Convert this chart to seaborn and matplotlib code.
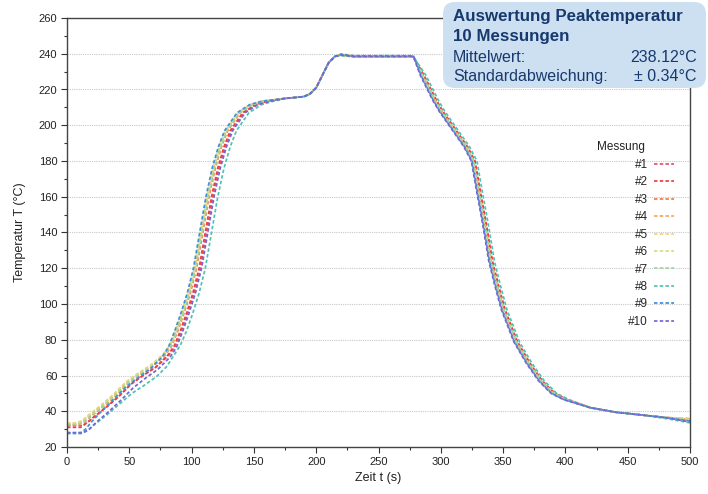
import matplotlib
matplotlib.use("Agg")
import matplotlib.pyplot as plt
import seaborn as sns
import pandas as pd
from matplotlib.patches import FancyBboxPatch
from matplotlib.lines import Line2D
from matplotlib.ticker import MultipleLocator

# ---------------- data ----------------
labels = ["#1", "#2", "#3", "#4", "#5", "#6", "#7", "#8", "#9", "#10"]
colors = ["#e8506e", "#f03c3c", "#f47a45", "#f8a650", "#f7d27a",
          "#d3dd86", "#9fd6a0", "#4fc2b2", "#3f8fe0", "#7664d4"]

t1 = [0, 12, 17, 22, 32, 42, 52, 62, 72, 82, 87, 92, 97, 102, 107, 112, 117, 122, 127, 132, 142, 152, 162,
      175, 190, 195, 200, 205, 210, 215, 220, 230, 250, 278,
      286, 291, 296, 301, 311, 321, 327, 331, 336, 341, 346, 351, 361, 371, 381, 391, 401,
      420, 440, 460, 480, 500]
T1 = [32, 32, 34, 37, 42.5, 48.5, 55.5, 60.5, 65, 71.5, 76.5, 85, 95, 106, 120, 140, 160, 176, 188, 197, 207, 211.5, 213.5,
      215, 216, 217.5, 221, 228, 235, 238.5, 239.6, 238.6, 238.6, 238.6,
      228, 221, 214, 208, 198, 188, 180, 164, 145, 124, 110, 97, 79, 67, 57, 50, 46.5,
      42, 39.5, 38, 36.5, 35.5]

t2 = [0, 11, 16, 21, 31, 41, 51, 61, 71, 81, 86, 91, 96, 101, 106, 111, 116, 121, 126, 131, 141, 151, 161,
      175, 190, 195, 200, 205, 210, 215, 220, 230, 250, 278,
      286.5, 291.5, 296.5, 301.5, 311.5, 321.5, 327.5, 331.5, 336.5, 341.5, 346.5, 351.5, 361.5, 371.5, 381.5, 391.5, 401.5,
      420, 440, 460, 480, 500]
T2 = [31, 31, 33.5, 36.5, 42, 48, 55, 60, 64.5, 71.5, 76.5, 85, 95, 106, 120, 140, 160, 176, 188, 197, 207, 211.5, 213.5,
      215, 216, 217.5, 221, 228, 235, 238.5, 239.3, 238.4, 238.4, 238.4,
      228, 221, 214, 208, 198, 188, 180, 164, 145, 124, 110, 97, 79, 67, 57, 50, 46.5,
      42, 39.5, 38, 36.5, 35]

t3 = [0, 9, 14, 19, 29, 39, 49, 59, 69, 79, 84, 89, 94, 99, 104, 109, 114, 119, 124, 129, 139, 149, 159,
      175, 190, 195, 200, 205, 210, 215, 220, 230, 250, 278,
      285, 290, 295, 300, 310, 320, 326, 330, 335, 340, 345, 350, 360, 370, 380, 390, 400,
      420, 440, 460, 480, 500]
T3 = [32.5, 32.5, 34, 37, 42.5, 48.5, 55.5, 60.5, 65, 71.5, 76.5, 85, 95, 106, 120, 140, 160, 176, 188, 197, 207, 211.5, 213.5,
      215, 216, 217.5, 221, 228, 235, 238.5, 239.5, 238.7, 238.7, 238.7,
      228, 221, 214, 208, 198, 188, 180, 164, 145, 124, 110, 97, 79, 67, 57, 50, 46.5,
      42, 39.5, 38, 36.5, 35.5]

t4 = [0, 8, 13, 18, 28, 38, 48, 58, 68, 78, 83, 88, 93, 98, 103, 108, 113, 118, 123, 128, 138, 148, 158,
      175, 190, 195, 200, 205, 210, 215, 220, 230, 250, 278,
      285.5, 290.5, 295.5, 300.5, 310.5, 320.5, 326.5, 330.5, 335.5, 340.5, 345.5, 350.5, 360.5, 370.5, 380.5, 390.5, 400.5,
      420, 440, 460, 480, 500]
T4 = [33, 33, 34.5, 37.5, 43, 49, 56, 61, 65.5, 71.5, 76.5, 85, 95, 106, 120, 140, 160, 176, 188, 197, 207, 211.5, 213.5,
      215, 216, 217.5, 221, 228, 235, 238.5, 239.2, 238.3, 238.3, 238.3,
      228, 221, 214, 208, 198, 188, 180, 164, 145, 124, 110, 97, 79, 67, 57, 50, 46.5,
      42, 39.5, 38, 36.5, 36]

t5 = [0, 7.5, 12.5, 17.5, 27.5, 37.5, 47.5, 57.5, 67.5, 77.5, 82.5, 87.5, 92.5, 97.5, 102.5, 107.5, 112.5, 117.5, 122.5, 127.5, 137.5, 147.5, 157.5,
      175, 190, 195, 200, 205, 210, 215, 220, 230, 250, 278,
      285, 290, 295, 300, 310, 320, 326, 330, 335, 340, 345, 350, 360, 370, 380, 390, 400,
      420, 440, 460, 480, 500]
T5 = [33.5, 33.5, 35, 38, 43.5, 49.5, 56.5, 61.5, 66, 72, 77, 85, 95, 106, 120, 140, 160, 176, 188, 197, 207, 211.5, 213.5,
      215, 216, 217.5, 221, 228, 235, 238.5, 239.7, 238.8, 238.8, 238.8,
      228, 221, 214, 208, 198, 188, 180, 164, 145, 124, 110, 97, 79, 67, 57, 50, 46.5,
      42, 39.5, 38, 36.5, 36]

t6 = [0, 7, 12, 17, 27, 37, 47, 57, 67, 77, 82, 87, 92, 97, 102, 107, 112, 117, 122, 127, 137, 147, 157,
      175, 190, 195, 200, 205, 210, 215, 220, 230, 250, 278,
      284.5, 289.5, 294.5, 299.5, 309.5, 319.5, 325.5, 329.5, 334.5, 339.5, 344.5, 349.5, 359.5, 369.5, 379.5, 389.5, 399.5,
      420, 440, 460, 480, 500]
T6 = [33, 33, 34.5, 37.5, 43, 49, 56, 61, 65.5, 71.5, 76.5, 85, 95, 106, 120, 140, 160, 176, 188, 197, 207, 211.5, 213.5,
      215, 216, 217.5, 221, 228, 235, 238.5, 239.4, 238.5, 238.5, 238.5,
      228, 221, 214, 208, 198, 188, 180, 164, 145, 124, 110, 97, 79, 67, 57, 50, 46.5,
      42, 39.5, 38, 36.5, 35.5]

t7 = [0, 8.5, 13.5, 18.5, 28.5, 38.5, 48.5, 58.5, 68.5, 78.5, 83.5, 88.5, 93.5, 98.5, 103.5, 108.5, 113.5, 118.5, 123.5, 128.5, 138.5, 148.5, 158.5,
      175, 190, 195, 200, 205, 210, 215, 220, 230, 250, 278,
      285.5, 290.5, 295.5, 300.5, 310.5, 320.5, 326.5, 330.5, 335.5, 340.5, 345.5, 350.5, 360.5, 370.5, 380.5, 390.5, 400.5,
      420, 440, 460, 480, 500]
T7 = [32.5, 32.5, 34, 37, 42.5, 48.5, 55.5, 60.5, 65, 71.5, 76.5, 85, 95, 106, 120, 140, 160, 176, 188, 197, 207, 211.5, 213.5,
      215, 216, 217.5, 221, 228, 235, 238.5, 239.1, 238.2, 238.2, 238.2,
      228, 221, 214, 208, 198, 188, 180, 164, 145, 124, 110, 97, 79, 67, 57, 50, 46.5,
      42, 39.5, 38, 36.5, 35]

t8 = [0, 12, 17, 22, 32, 42, 52, 62, 72, 80, 86, 91, 96, 101, 106, 111, 116, 121, 126, 131, 136, 146, 156, 166,
      175, 190, 195, 200, 205, 210, 215, 220, 230, 250, 278,
      288, 293, 298, 303, 313, 323, 329, 333, 338, 343, 348, 353, 363, 373, 383, 393, 403,
      420, 440, 460, 480, 500]
T8 = [27.5, 27.5, 29.5, 32.5, 38, 44, 50, 54.5, 59.5, 65, 71.5, 77, 85, 95, 106, 120, 140, 160, 176, 188, 197, 207, 211.5, 213.5,
      215, 216, 217.5, 221, 228, 235, 238.5, 239.0, 238.4, 238.4, 238.4,
      228, 221, 214, 208, 198, 188, 180, 164, 145, 124, 110, 97, 79, 67, 57, 50, 46.5,
      42, 39.5, 38, 36, 33.5]

t9 = [0, 11, 15, 19, 27, 36.5, 46.5, 56.5, 66.5, 76.5, 81.5, 86.5, 91.5, 96.5, 101.5, 106.5, 111.5, 116.5, 121.5, 126.5, 136.5, 146.5, 156.5,
      175, 190, 195, 200, 205, 210, 215, 220, 230, 250, 278,
      284, 289, 294, 299, 309, 319, 325, 329, 334, 339, 344, 349, 359, 369, 379, 389, 399,
      420, 440, 460, 480, 500]
T9 = [28, 28, 30, 33.5, 39.5, 46, 53, 58.5, 63.5, 70.5, 76, 85, 95, 106, 120, 140, 160, 176, 188, 197, 207, 211.5, 213.5,
      215, 216, 217.5, 221, 228, 235, 238.5, 239.8, 238.9, 238.9, 238.9,
      228, 221, 214, 208, 198, 188, 180, 164, 145, 124, 110, 97, 79, 67, 57, 50, 46.5,
      42, 39.5, 38, 36.5, 34.5]

t10 = [0, 13, 18, 23, 33, 43, 53, 63, 73, 83, 88, 93, 98, 103, 108, 113, 118, 123, 128, 133, 143, 153, 163,
       175, 190, 195, 200, 205, 210, 215, 220, 230, 250, 278,
       283.5, 288.5, 293.5, 298.5, 308.5, 318.5, 324.5, 328.5, 333.5, 338.5, 343.5, 348.5, 358.5, 368.5, 378.5, 388.5, 398.5,
       420, 440, 460, 480, 500]
T10 = [28, 28, 30, 33.5, 39.5, 46, 53, 58.5, 63.5, 70.5, 76, 85, 95, 106, 120, 140, 160, 176, 188, 197, 207, 211.5, 213.5,
       215, 216, 217.5, 221, 228, 235, 238.5, 239.3, 238.5, 238.5, 238.5,
       228, 221, 214, 208, 198, 188, 180, 164, 145, 124, 110, 97, 79, 67, 57, 50, 46.5,
       42, 39.5, 38, 36.5, 34]

times = [t1, t2, t3, t4, t5, t6, t7, t8, t9, t10]
temps = [T1, T2, T3, T4, T5, T6, T7, T8, T9, T10]

x_ticks = [0, 50, 100, 150, 200, 250, 300, 350, 400, 450, 500]
y_ticks = [20, 40, 60, 80, 100, 120, 140, 160, 180, 200, 220, 240, 260]

box_title = ["Auswertung Peaktemperatur", "10 Messungen"]
box_rows = [("Mittelwert:", "238.12°C"), ("Standardabweichung:", "± 0.34°C")]

# ---------------- build table ----------------
rows = []
for lab, ts, Ts in zip(labels, times, temps):
    for a, b in zip(ts, Ts):
        rows.append({"Zeit": a, "Temp": b, "Messung": lab})
df = pd.DataFrame(rows)

# ---------------- plot ----------------
sns.set_style("ticks")
plt.rcParams["font.family"] = ["Liberation Sans", "DejaVu Sans"]

W, H = 708, 494
fig = plt.figure(figsize=(W / 100, H / 100), dpi=100)
ax = fig.add_axes([67 / W, 1 - 447 / H, (690 - 67) / W, (447 - 18) / H])

dash = (2.0, 1.3)
sns.lineplot(data=df, x="Zeit", y="Temp", hue="Messung", style="Messung",
             palette=dict(zip(labels, colors)), dashes={l: dash for l in labels},
             estimator=None, sort=False, lw=1.25, legend=False, ax=ax)

ax.set_xlim(0, 500)
ax.set_ylim(20, 260)
ax.set_xticks(x_ticks)
ax.set_yticks(y_ticks)
ax.xaxis.set_minor_locator(MultipleLocator(25))
ax.yaxis.set_minor_locator(MultipleLocator(10))
ax.tick_params(which="major", direction="out", length=4, width=0.8, color="#333333",
               labelsize=8, labelcolor="#222222", pad=3)
ax.tick_params(which="minor", direction="out", length=2.5, width=0.8, color="#333333")
ax.grid(axis="y", which="major", linestyle=(0, (1, 1)), color="#c8c8c8", lw=0.8)
ax.set_axisbelow(True)
for s in ax.spines.values():
    s.set_visible(True)
    s.set_color("#444444")
    s.set_linewidth(1.0)

ax.set_xlabel("Zeit t (s)", fontsize=9, color="#222222", labelpad=4)
ax.set_ylabel("Temperatur T (°C)", fontsize=9, color="#222222", labelpad=9)

# legend
handles = [Line2D([], [], color=c, lw=1.25, dashes=dash) for c in colors]
ax.legend(handles, labels, loc="upper right", bbox_to_anchor=(674 / W, 1 - 159 / H),
          bbox_transform=fig.transFigure, frameon=False, markerfirst=False,
          fontsize=8.5, handlelength=1.7, handletextpad=0.5, labelspacing=0.46,
          borderpad=0, borderaxespad=0)
fig.text(645 / W, 1 - 147 / H, "Messung", ha="right", va="center", fontsize=8.5, color="#222222")

# info box
box = FancyBboxPatch((443 / 100, (H - 88) / 100), (706 - 443) / 100, (88 - 2) / 100,
                     boxstyle="round,pad=0,rounding_size=0.12",
                     transform=fig.dpi_scale_trans, facecolor="#cde0f1",
                     edgecolor="none", zorder=5)
fig.add_artist(box)
navy = "#17396e"
fig.text(453 / W, 1 - 17 / H, box_title[0], ha="left", va="center", fontsize=12.2,
         fontweight="bold", color=navy, zorder=6)
fig.text(453 / W, 1 - 36 / H, box_title[1], ha="left", va="center", fontsize=12.2,
         fontweight="bold", color=navy, zorder=6)
for i, (k, v) in enumerate(box_rows):
    y = 1 - (57 + 19.5 * i) / H
    fig.text(453 / W, y, k, ha="left", va="center", fontsize=11.5, color=navy, zorder=6)
    fig.text(697 / W, y, v, ha="right", va="center", fontsize=11.5, color=navy, zorder=6)

fig.savefig("out.png", dpi=100)
